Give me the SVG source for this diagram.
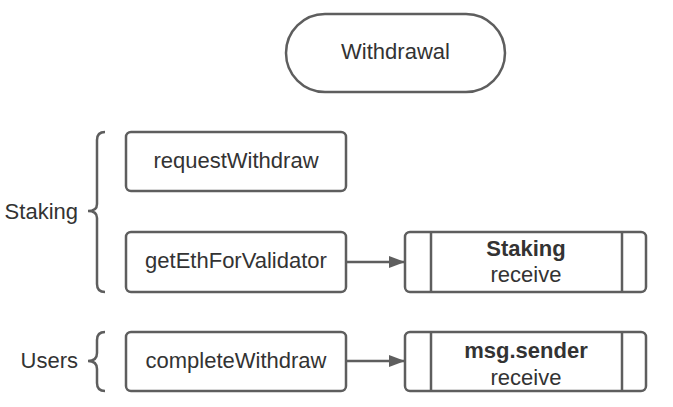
<svg xmlns="http://www.w3.org/2000/svg" width="673" height="407" viewBox="0 0 673 407">
<style>
.box{fill:#fff;stroke:#5e5e5e;stroke-width:2.5}
.ln{fill:none;stroke:#5e5e5e;stroke-width:2.5}
.t{font-family:"Liberation Sans",Arial,sans-serif;font-size:22px;fill:#333;text-anchor:middle;dominant-baseline:central}
.b{font-weight:bold}
.lbl{text-anchor:end}
</style>
<defs>
<marker id="ah" markerWidth="16" markerHeight="12" refX="15" refY="6" orient="auto" markerUnits="userSpaceOnUse">
<path d="M0,0 L16,6 L0,12 Z" fill="#5e5e5e"/>
</marker>
</defs>
<rect width="673" height="407" fill="#fff"/>
<g id="withdrawal">
<rect class="box" x="286" y="14" width="219" height="78" rx="39" ry="39"/>
<text class="t" x="395.5" y="51">Withdrawal</text>
</g>
<g id="staking-label">
<text class="t lbl" x="78" y="211">Staking</text>
<path class="ln" d="M105,132 Q97,132 97,140 L97,204 Q97,211 88,211 Q97,211 97,218 L97,284 Q97,292 105,292"/>
</g>
<g id="users-label">
<text class="t lbl" x="78" y="360">Users</text>
<path class="ln" d="M105,332 Q97,332 97,340 L97,353 Q97,361 88,361 Q97,361 97,369 L97,383 Q97,391 105,391"/>
</g>
<g id="requestWithdraw">
<rect class="box" x="126" y="132" width="220" height="59" rx="5"/>
<text class="t" x="236" y="160">requestWithdraw</text>
</g>
<g id="getEthForValidator">
<rect class="box" x="126" y="232" width="220" height="60" rx="5"/>
<text class="t" x="236" y="260">getEthForValidator</text>
</g>
<g id="completeWithdraw">
<rect class="box" x="126" y="332" width="220" height="59" rx="5"/>
<text class="t" x="236" y="360">completeWithdraw</text>
</g>
<g id="staking-receive">
<rect class="box" x="405" y="232" width="241" height="60" rx="5"/>
<line class="ln" x1="431" y1="232" x2="431" y2="292"/>
<line class="ln" x1="622" y1="232" x2="622" y2="292"/>
<text class="t b" x="526" y="248">Staking</text>
<text class="t" x="526" y="274">receive</text>
</g>
<g id="sender-receive">
<rect class="box" x="405" y="332" width="241" height="59" rx="5"/>
<line class="ln" x1="431" y1="332" x2="431" y2="391"/>
<line class="ln" x1="622" y1="332" x2="622" y2="391"/>
<text class="t b" x="526" y="350">msg.sender</text>
<text class="t" x="526" y="377">receive</text>
</g>
<g id="connectors">
<line class="ln" x1="347" y1="262" x2="404" y2="262" marker-end="url(#ah)"/>
<line class="ln" x1="347" y1="361" x2="404" y2="361" marker-end="url(#ah)"/>
</g>
</svg>
